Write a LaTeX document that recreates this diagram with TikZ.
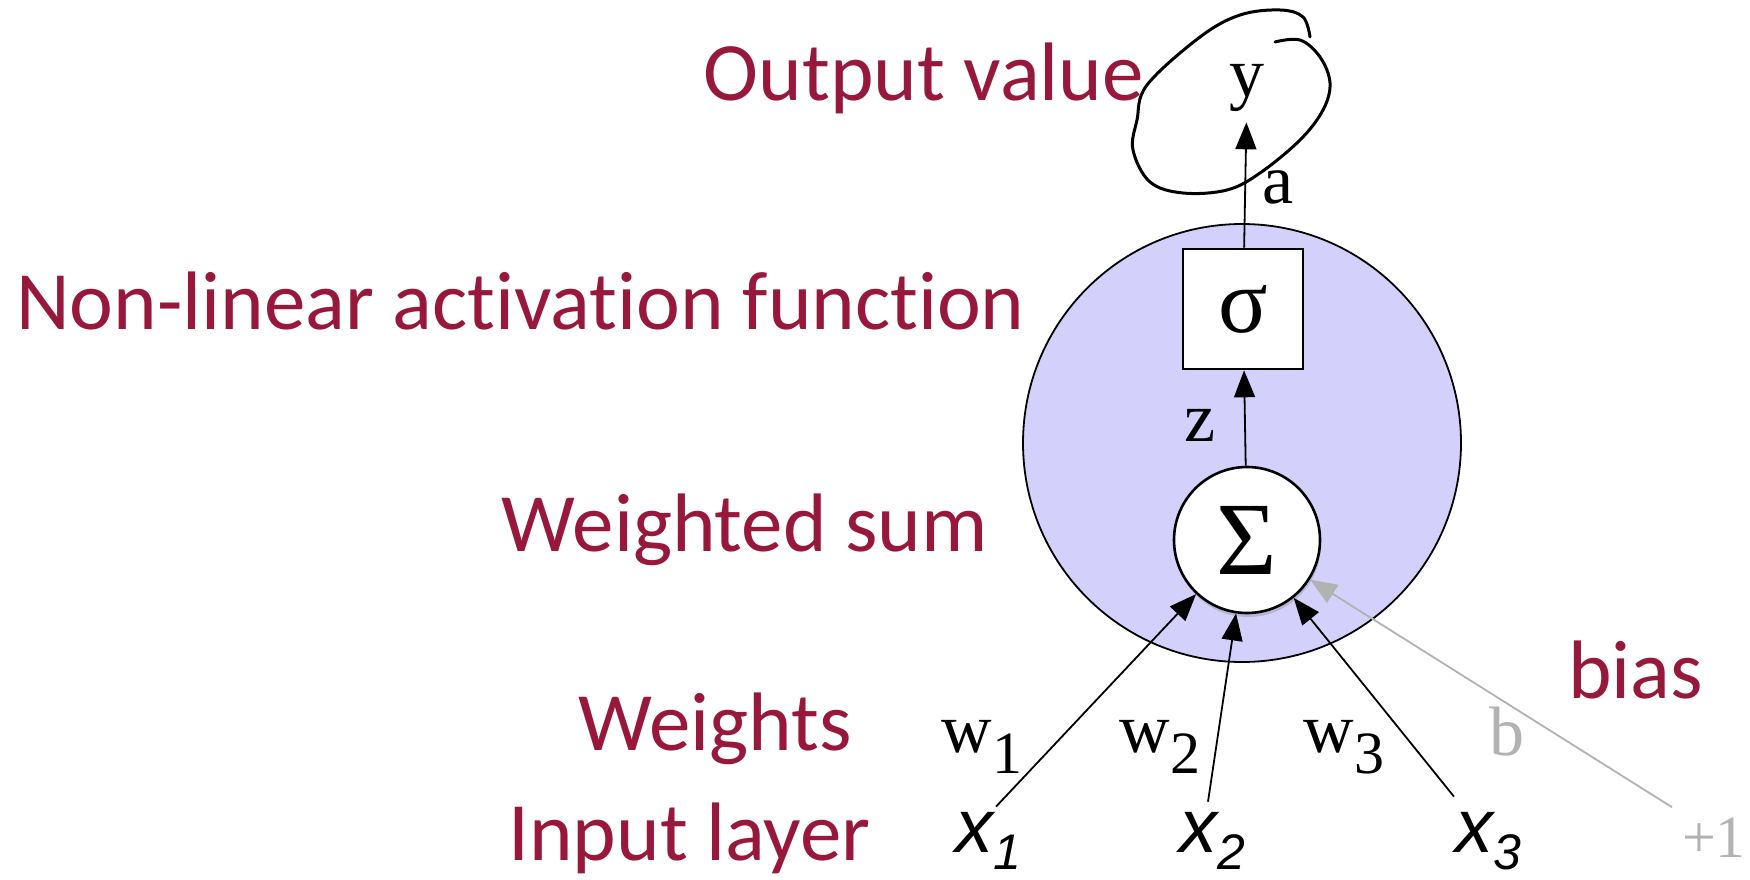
\documentclass[tikz,border=0pt]{standalone}
\usepackage{fontspec}
\setmainfont{Liberation Serif}
\newfontfamily\labfont[Ligatures=NoCommon]{Carlito}
\newfontfamily\inpfont{Liberation Sans}
\usetikzlibrary{arrows.meta,shadows}
\definecolor{labred}{RGB}{152,24,60}
\definecolor{cellfill}{RGB}{212,208,252}
\definecolor{biasgray}{RGB}{178,178,178}

\begin{document}
\begin{tikzpicture}[
  x=1pt, y=-1pt,
  lab/.style={font=\labfont\fontsize{83}{86}\selectfont, text=labred, inner sep=0pt},
  sym/.style={font=\fontsize{70}{72}\selectfont, inner sep=0pt},
  inp/.style={font=\inpfont\itshape\fontsize{76}{78}\selectfont, inner sep=2pt, anchor=base},
  arr/.style={-{Triangle[length=27pt,width=21pt]}, line width=1.8pt},
  barr/.style={-{Triangle[length=27pt,width=21pt]}, line width=1.8pt, draw=biasgray}
]
\useasboundingbox (0,0) rectangle (1750,880);

% neuron body
\node[circle, draw, line width=1.8pt, fill=cellfill, minimum size=438pt] (cell) at (1242,443) {};
\node[draw, line width=2.6pt, fill=white, minimum size=120pt, inner sep=0pt,
  font=\fontsize{92}{94}\selectfont] (act) at (1243,309) {σ};
\node[circle, draw, line width=2.6pt, fill=white, minimum size=146pt, inner sep=0pt,
  drop shadow={opacity=0.35, shadow xshift=1pt, shadow yshift=-4pt},
  font=\fontsize{104}{106}\selectfont] (sum) at (1247,540) {Σ};

% output
\node[sym, anchor=base, inner ysep=10pt] (yv) at (1247,97) {y};
\draw[line width=3pt, line cap=round] plot[smooth, tension=0.6] coordinates {
  (1275,42) (1300,40) (1320,57) (1330,83) (1323,110) (1300,140) (1260,173)
  (1227,190) (1183,193) (1150,182) (1133,150) (1137,120) (1147,85) (1200,37)
  (1240,15) (1280,10) (1303,17) (1310,37)};

% inputs
\node[inp] (x1) at (988,852) {x\raisebox{-17pt}{\fontsize{50}{50}\selectfont 1}};
\node[inp] (x2) at (1212,852) {x\raisebox{-17pt}{\fontsize{50}{50}\selectfont 2}};
\node[inp] (x3) at (1488,852) {x\raisebox{-17pt}{\fontsize{50}{50}\selectfont 3}};
\node[sym, anchor=base, text=biasgray, font=\fontsize{60}{62}\selectfont] (one) at (1714,857) {+1};

\draw[arr] ([xshift=8pt,yshift=3pt]x1.north) -- (sum);
\draw[arr] ([xshift=-4pt,yshift=8pt]x2.north) -- (sum);
\draw[arr] ([xshift=-34pt,yshift=13pt]x3.north) -- (sum);
\draw[barr] ([xshift=-42pt,yshift=10pt]one.north) -- (sum);
\draw[arr] (sum) -- (act);
\draw[arr] (act) -- (yv);

% signal labels
\node[sym, anchor=base] (za) at (1278,203) {a};
\node[sym, anchor=base] (zz) at (1200,441) {z};
\node[sym, anchor=base] (w1) at (982,752) {w\raisebox{-0.3em}{\fontsize{60}{60}\selectfont 1}};
\node[sym, anchor=base] (w2) at (1160,752) {w\raisebox{-0.3em}{\fontsize{60}{60}\selectfont 2}};
\node[sym, anchor=base] (w3) at (1344,752) {w\raisebox{-0.3em}{\fontsize{60}{60}\selectfont 3}};
\node[sym, anchor=base, text=biasgray] (bb) at (1507,755) {b};

% layer names
\node[lab, anchor=east] (lout) at (1144,78) {Output value};
\node[lab, anchor=west] (lact) at (16,301) {Non-linear activation function};
\node[lab, anchor=east] (lsum) at (988,530) {Weighted sum};
\node[lab, anchor=east] (lw) at (852,729) {Weights};
\node[lab, anchor=base east] (lin) at (871,860) {Input layer};
\node[lab, anchor=west] (lbias) at (1568,670) {bias};

\end{tikzpicture}
\end{document}
